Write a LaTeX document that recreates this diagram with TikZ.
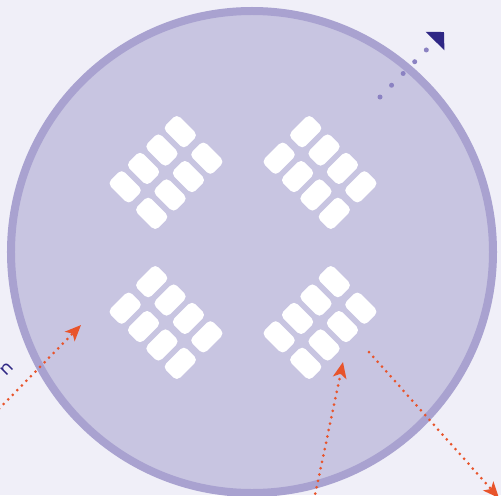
\documentclass[tikz,border=0pt]{standalone}
\usepackage{fontspec}
\newfontfamily\tagfont{Poppins}
\usetikzlibrary{arrows.meta}
\definecolor{wafbg}{HTML}{F0EFF8}
\definecolor{waffill}{HTML}{C8C5E1}
\definecolor{wafline}{HTML}{A9A2D0}
\definecolor{wafdot}{HTML}{8B82C2}
\definecolor{wafnavy}{HTML}{2F2785}
\definecolor{waforange}{HTML}{E8542B}

\begin{document}
\begin{tikzpicture}[
    x=0.2mm, y=0.2mm,
    wafer/.style={circle, draw=wafline, fill=waffill, line width=1.6mm, minimum size=96.4mm, inner sep=0pt},
    chip/.style={fill=white, rounded corners=1mm, minimum width=6mm, minimum height=4mm, inner sep=0pt},
    spin/.style={draw=wafdot, line width=1mm, line cap=round, dash pattern=on 0pt off 3.3mm,
                 -{Triangle[length=2.55mm, width=5.1mm, color=wafnavy]}},
    probe/.style={draw=waforange, line width=0.6mm, line cap=round, dash pattern=on 0pt off 1.3mm,
                  -{Stealth[length=3.2mm, width=2.7mm, inset=0.8mm, color=waforange]}},
    tag/.style={font=\tagfont\fontsize{10}{12}\selectfont, text=wafnavy, inner sep=0pt}
  ]
    \useasboundingbox (0,0) rectangle (501,495);
    \fill[wafbg] (0,0) rectangle (501,495);
    \clip (0,0) rectangle (501,495);

    \node[wafer] (wafer) at (252,243) {};

    % four die groups (8 chips each), turned by +-45 degrees
    \foreach \cx/\cy/\ang [count=\k] in {166/322.5/-45, 320/322.5/45, 166/172.5/45, 320/172.5/-45}{
      \begin{scope}[shift={(\cx,\cy)}, rotate=\ang]
        \foreach \j [count=\r] in {-39,-13,13,39}
          \foreach \i [count=\c] in {-1,1}
            \node[chip, rotate=\ang] (chip\k-\r\c) at (\i*18.75, \j) {};
      \end{scope}
    }

    \coordinate (spinstart) at (380,398);
    \coordinate (spinend)   at (444,463);
    \draw[spin] (spinstart) -- (spinend);

    \coordinate (probeAstart) at (-10,77);
    \coordinate (probeAend)   at (81,170);
    \coordinate (probeBstart) at (314,-5);
    \coordinate (probeBend)   at (343,133);
    \coordinate (probeCstart) at (369,143);
    \coordinate (probeCend)   at (499,-3);
    \draw[probe] (probeAstart) -- (probeAend);
    \draw[probe] (probeBstart) -- (probeBend);
    \draw[probe] (probeCstart) -- (probeCend);

    \node[tag, rotate=45] (edge) at (7,126) {n};
  \end{tikzpicture}
\end{document}
